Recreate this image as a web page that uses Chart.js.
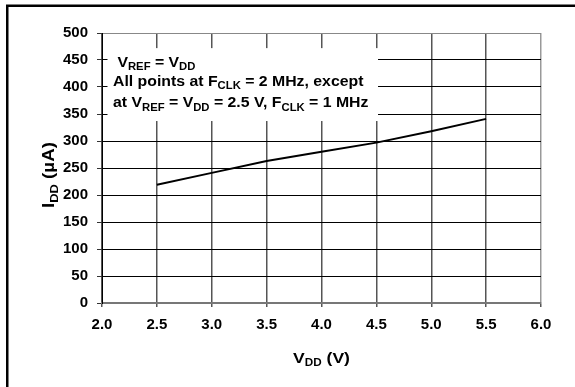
<!DOCTYPE html>
<html>
<head>
<meta charset="utf-8">
<script src="https://cdn.jsdelivr.net/npm/chart.js@4/dist/chart.umd.min.js"></script>
<style>
  body { margin: 0; background: #fff; }
  #wrap { width: 575px; height: 387px; }
</style>
</head>
<body>
<div id="wrap"><canvas id="idd" width="575" height="387"></canvas></div>
<script>
// Supply current vs. supply voltage
const vddValues = [2.5, 3.0, 3.5, 4.0, 4.5, 5.0, 5.5]
const iddValues = [219, 241, 263, 280, 297, 318, 341]
const xMin = 2.0, xMax = 6.0, xStep = 0.5
const yMin = 0, yMax = 500, yStep = 50

const FONT = "'Liberation Sans', Arial, sans-serif"

// text pieces: [text, isSubscript]
const noteLines = [
  [[" V", false], ["REF", true], [" = V", false], ["DD", true]],
  [["All points at F", false], ["CLK", true], [" = 2 MHz, except", false]],
  [["at V", false], ["REF", true], [" = V", false], ["DD", true], [" = 2.5 V, F", false], ["CLK", true], [" = 1 MHz", false]],
]
const xTitle = [["V", false], ["DD", true], [" (V)", false]]
const yTitle = [["I", false], ["DD", true], [" (\u00b5A)", false]]
// white note box, in axis units
const noteBox = { x0: 2.05, x1: 4.515, y0: 337, y1: 472 }

function richWidth(ctx, parts, size) {
  let w = 0
  for (const [t, sub] of parts) {
    ctx.font = "bold " + (sub ? Math.round(size * 0.68) : size) + "px " + FONT
    w += ctx.measureText(t).width
  }
  return w
}

// draws text with subscripts, stretched sideways by sx
function drawRich(ctx, parts, x, y, size, sx) {
  ctx.save()
  ctx.translate(x, y)
  ctx.scale(sx, 1)
  ctx.textAlign = "left"
  ctx.textBaseline = "alphabetic"
  let cx = 0
  for (const [t, sub] of parts) {
    ctx.font = "bold " + (sub ? Math.round(size * 0.68) : size) + "px " + FONT
    ctx.fillText(t, cx, sub ? size * 0.22 : 0)
    cx += ctx.measureText(t).width
  }
  ctx.restore()
}

const decorPlugin = {
  id: "decor",
  beforeDraw(chart) {
    const ctx = chart.ctx
    ctx.save()
    ctx.strokeStyle = "#000"
    ctx.lineWidth = 2.5
    ctx.beginPath()
    ctx.moveTo(7.25, chart.height)
    ctx.lineTo(7.25, 5.75)
    ctx.lineTo(chart.width, 5.75)
    ctx.stroke()
    ctx.restore()
  },
  beforeDatasetsDraw(chart) {
    const { ctx, scales: { x, y } } = chart
    ctx.save()
    ctx.fillStyle = "#fff"
    const l = x.getPixelForValue(noteBox.x0), r = x.getPixelForValue(noteBox.x1)
    const t = y.getPixelForValue(noteBox.y1), b = y.getPixelForValue(noteBox.y0)
    ctx.fillRect(l, t, r - l, b - t)
    ctx.restore()
  },
  afterDraw(chart) {
    const { ctx, scales: { x, y }, chartArea } = chart
    ctx.save()
    ctx.fillStyle = "#000"
    // note text
    const left = x.getPixelForValue(noteBox.x0) + 5.5
    const top = y.getPixelForValue(noteBox.y1)
    const baselines = [18.5, 37.8, 59.3]
    noteLines.forEach((line, i) => drawRich(ctx, line, left, top + baselines[i], 14, 1.13))
    // x title
    const xw = richWidth(ctx, xTitle, 15) * 1.17
    drawRich(ctx, xTitle, (chartArea.left + chartArea.right) / 2 - xw / 2, 363, 15, 1.17)
    // y title, rotated
    const yw = richWidth(ctx, yTitle, 16) * 1.17
    ctx.translate(54, 175)
    ctx.rotate(-Math.PI / 2)
    drawRich(ctx, yTitle, -yw / 2, 0, 16, 1.17)
    ctx.restore()
  },
}

new Chart(document.getElementById("idd"), {
  type: "line",
  data: {
    datasets: [
      {
        data: vddValues.map((v, i) => ({ x: v, y: iddValues[i] })),
        borderColor: "#000",
        borderWidth: 2,
        pointRadius: 0,
        tension: 0,
        fill: false,
      },
    ],
  },
  options: {
    responsive: false,
    animation: false,
    devicePixelRatio: 1,
    layout: { padding: { top: 33, right: 34, left: 0, bottom: 0 } },
    plugins: {
      legend: { display: false },
      tooltip: { enabled: false },
    },
    scales: {
      x: {
        type: "linear",
        min: xMin,
        max: xMax,
        afterFit: (s) => { s.height = 84 },
        ticks: {
          stepSize: xStep,
          padding: 9,
          color: "#000",
          font: { family: FONT, size: 15, weight: "bold" },
          callback: (v) => v.toFixed(1),
        },
        grid: {
          color: (c) => (c.tick && c.tick.value === xMax ? "#999" : "#555"),
          lineWidth: 1.5,
          tickLength: 4,
          tickColor: "#555",
        },
        border: { color: "#777", width: 2 },
      },
      y: {
        min: yMin,
        max: yMax,
        afterFit: (s) => { s.width = 102 },
        ticks: {
          stepSize: yStep,
          padding: 9,
          color: "#000",
          font: { family: FONT, size: 15, weight: "bold" },
        },
        grid: {
          color: (c) => (c.tick && c.tick.value === yMax ? "#888" : "#000"),
          lineWidth: 1,
          tickLength: 5,
          tickColor: "#333",
        },
        border: { color: "#000", width: 1 },
      },
    },
  },
  plugins: [decorPlugin],
})
</script>
</body>
</html>
